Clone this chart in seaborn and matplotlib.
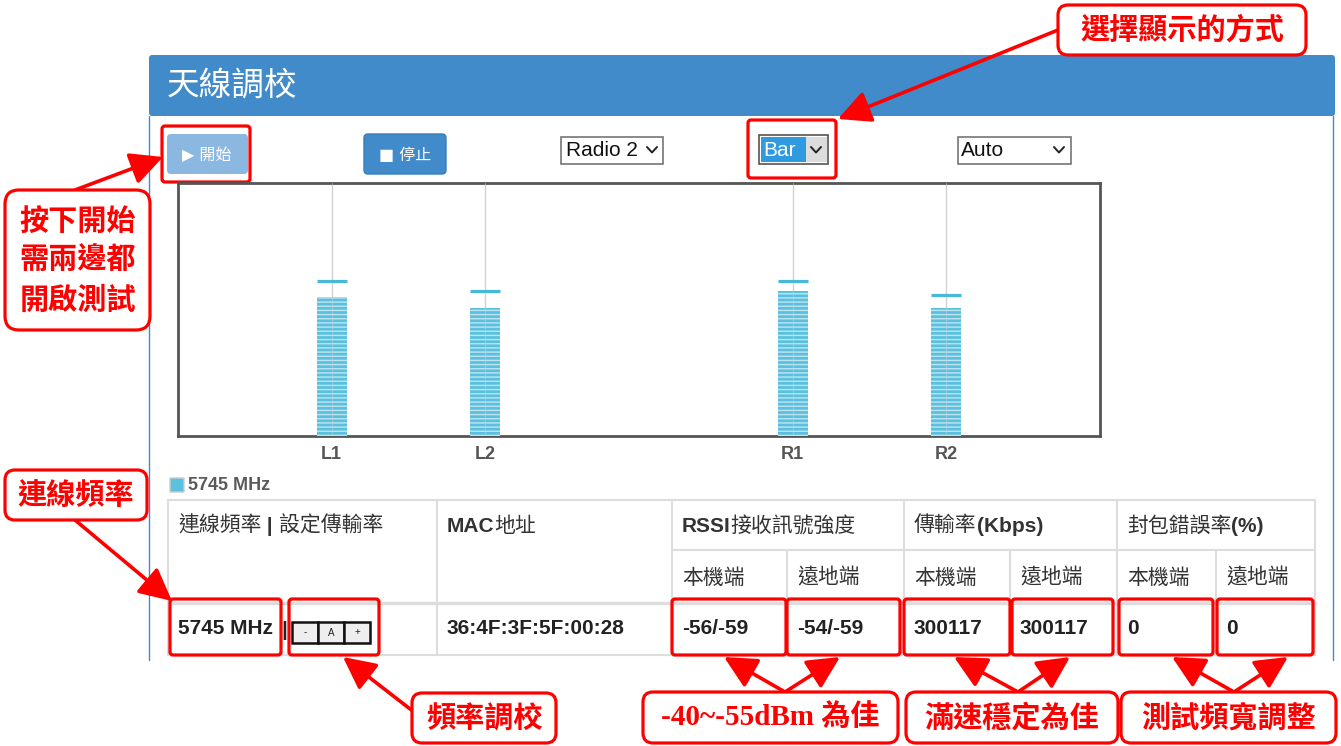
import re
import numpy as np
import pandas as pd
import matplotlib.pyplot as plt
import seaborn as sns
from matplotlib.patches import Rectangle, FancyBboxPatch

# ---- data ----
channels = ['L1', 'L2', 'R1', 'R2']
slot_order = ['L1', 'L2', ' ', 'R1', 'R2']
signal_level = [55.0, 50.5, 57.5, 50.5]
peak_level = [61.3, 57.3, 61.3, 55.7]

freq_label = '5745 MHz'
mac_addr = '36:4F:3F:5F:00:28'
header_top = ['連線頻率 | 設定傳輸率', 'MAC地址', 'RSSI接收訊號強度', '傳輸率(Kbps)', '封包錯誤率(%)']
sub_header = ['本機端', '遠地端', '本機端', '遠地端', '本機端', '遠地端']
row_values = ['-56/-59', '-54/-59', '300117', '300117', '0', '0']

callouts = ['選擇顯示的方式', '按下開始\n需兩邊都\n開啟測試', '連線頻率', '頻率調校',
            '-40~-55dBm 為佳', '滿速穩定為佳', '測試頻寬調整']

UI = ['Liberation Sans', 'Noto Sans CJK TC']
CJK = ['Noto Sans CJK TC', 'DejaVu Sans']
RED = '#ff0000'
BLUE = '#428bca'

sns.set_theme(style='white')
plt.rcParams['font.family'] = UI
plt.rcParams['hatch.linewidth'] = 1.0

fig = plt.figure(figsize=(13.41, 7.46), dpi=100)
renderer = fig.canvas.get_renderer()
bg = fig.add_axes([0, 0, 1, 1])
bg.set_xlim(0, 1341)
bg.set_ylim(746, 0)
bg.axis('off')


def box(x0, y0, x1, y1, fc, ec='none', lw=1.0, r=0, z=1):
    bg.add_patch(FancyBboxPatch((x0, y0), x1 - x0, y1 - y0,
                                boxstyle=f'round,pad=0,rounding_size={r}',
                                fc=fc, ec=ec, lw=lw, zorder=z))


def txt(x, y, s, size, color='#333333', weight='normal', ha='left', family=UI, **kw):
    return bg.text(x, y, s, fontsize=size, color=color, fontweight=weight,
                   ha=ha, va='center', family=family, **kw)


def mixed(x, y, s, size, color='#333333'):
    # ascii runs bold, CJK runs regular, laid out on one baseline
    for run in re.findall(r'[\x00-\x7f]+|[^\x00-\x7f]+', s):
        w = 'bold' if run.isascii() else 'normal'
        t = bg.text(x, y, run, fontsize=size, color=color, fontweight=w,
                    va='baseline', ha='left', family=UI)
        x += t.get_window_extent(renderer).width


def chevron(cx, cy):
    bg.plot([cx - 5, cx, cx + 5], [cy - 3, cy + 2.5, cy - 3], color='#222222', lw=1.4,
            solid_capstyle='round', zorder=3)


# ---- panel ----
box(149, 55, 1335, 116, BLUE, r=3)
bg.plot([149, 149], [116, 660], color=BLUE, lw=1)
bg.plot([1333, 1333], [116, 660], color=BLUE, lw=1)
txt(167, 86, '天線調校', 23.5, 'white', family=CJK)

# buttons
box(167, 134, 248, 174, '#8bb8e1', r=4, z=2)
txt(207, 155, '▶ 開始', 11.5, 'white', ha='center', family=['DejaVu Sans', 'Noto Sans CJK TC'], zorder=3)
box(364, 134, 446, 174, BLUE, '#357ebd', r=4, z=2)
txt(405, 155, '■ 停止', 11.5, 'white', ha='center', family=['DejaVu Sans', 'Noto Sans CJK TC'], zorder=3)

# dropdowns
box(561, 137, 663, 164, 'white', '#767676', 1.2, z=2)
txt(566, 150, 'Radio 2', 15, '#111111', zorder=3)
chevron(652, 150)
box(759, 135, 828, 164, 'white', '#555555', 1.2, z=2)
box(761, 137, 806, 162, '#2f9ae0', z=2)
box(806, 137, 827, 162, '#dcdcdc', z=2)
txt(763, 150, 'Bar', 15, 'white', zorder=3)
chevron(816, 150)
box(958, 137, 1071, 164, 'white', '#767676', 1.2, z=2)
txt(961, 150, 'Auto', 15, '#111111', zorder=3)
chevron(1059, 150)

# ---- bar chart ----
ax = fig.add_axes([178 / 1341, 1 - 436 / 746, 922 / 1341, 253 / 746])
df = pd.DataFrame({'channel': channels, 'level': signal_level})
sns.barplot(data=df, x='channel', y='level', order=slot_order, color='#5bc0de',
            saturation=1, width=0.195, ax=ax, zorder=3)
for p in ax.patches:
    p.set_hatch('----')
    p.set_edgecolor((1, 1, 1, 0.6))
    p.set_linewidth(0)

xs = np.array([slot_order.index(c) for c in channels])
for x in xs:
    ax.axvline(x, color='#d8d8d8', lw=1, zorder=2)
    ax.axvline(x, color='#cfcfcf', lw=0.8, alpha=0.5, zorder=4)
ax.hlines(peak_level, xs - 0.0975, xs + 0.0975, color='#46b8da', lw=2.3, zorder=5)

ax.set_xlim(-1, 5)
ax.set_ylim(0, 100)
ax.set_yticks([])
ax.set_xticks(xs)
ax.set_xticklabels(channels, fontsize=13, fontweight='bold', color='#555555')
ax.tick_params(axis='x', length=0, pad=7)
ax.set_xlabel('')
ax.set_ylabel('')
for s in ax.spines.values():
    s.set_color('#555555')
    s.set_linewidth(2)

# legend
box(170, 478, 184, 492, '#5bc0de', '#cccccc', 1)
txt(188, 485, freq_label, 13, '#5a5a5a', 'bold')

# ---- table ----
grid = '#dddddd'
bg.plot([168, 1315], [500, 500], color=grid, lw=1.5)
bg.plot([672, 1315], [550, 550], color=grid, lw=1.5)
bg.plot([168, 1315], [603, 603], color=grid, lw=2.5)
bg.plot([168, 1315], [655, 655], color=grid, lw=1.5)
for x in [168, 437, 672, 904, 1117, 1315]:
    bg.plot([x, x], [500, 655], color=grid, lw=1.5)
for x in [787, 1010, 1216]:
    bg.plot([x, x], [550, 655], color=grid, lw=1.5)

for x, s in zip([178, 447, 682, 914, 1127], header_top):
    mixed(x, 532, s, 15)
for x, s in zip([682, 797, 914, 1020, 1127, 1226], sub_header):
    txt(x, 578, s, 15)
txt(178, 629, freq_label, 15, '#222222', 'bold')
txt(284, 630, '|', 15, '#222222', 'bold', ha='center')
txt(447, 629, mac_addr, 15, '#222222', 'bold')
for x, s in zip([682, 797, 914, 1020, 1127, 1226], row_values):
    txt(x, 629, s, 15, '#222222', 'bold')

# - A + buttons
for i, s in enumerate(['-', 'A', '+']):
    x0 = 292 + 26 * i
    bg.add_patch(Rectangle((x0, 622), 26, 21, fc='#eeeeee', ec='#111111', lw=1.8, zorder=2))
    txt(x0 + 13, 632.5, s, 7, '#222222', ha='center', zorder=3)

# ---- red highlights ----
red_rects = [(162, 126, 250, 182), (748, 120, 836, 178), (170, 599, 281, 655),
             (289, 599, 379, 655), (672, 599, 786, 655), (787, 599, 900, 655),
             (904, 599, 1010, 655), (1012, 599, 1113, 655), (1119, 599, 1213, 655),
             (1217, 599, 1313, 655)]
for x0, y0, x1, y1 in red_rects:
    box(x0, y0, x1, y1, 'none', RED, 2.3, r=3, z=6)

arrows = [((1058, 30), (838, 119)), ((75, 190), (163, 157)), ((75, 520), (172, 601)),
          ((414, 712), (343, 657)), ((785, 692), (724, 657)), ((785, 692), (840, 657)),
          ((1018, 692), (954, 657)), ((1018, 692), (1070, 657)),
          ((1234, 692), (1172, 657)), ((1234, 692), (1288, 657))]
for (x0, y0), (x1, y1) in arrows:
    bg.annotate('', xy=(x1, y1), xytext=(x0, y0), zorder=7,
                arrowprops=dict(arrowstyle='-|>,head_length=0.9,head_width=0.45', color=RED,
                                lw=2.6, shrinkA=0, shrinkB=0, mutation_scale=22))

callout_boxes = [(1058, 5, 1306, 55), (5, 190, 150, 330), (5, 470, 147, 520), (412, 693, 556, 743),
                 (643, 692, 898, 743), (906, 692, 1118, 743), (1121, 692, 1336, 743)]
for s, (x0, y0, x1, y1) in zip(callouts, callout_boxes):
    box(x0, y0, x1, y1, 'white', RED, 2.3, r=14 if y1 - y0 > 60 else 10, z=8)
    fam = ['Liberation Serif', 'Noto Sans CJK TC'] if s.startswith('-') else CJK
    txt((x0 + x1) / 2, (y0 + y1) / 2, s, 21, RED, 'bold', ha='center', family=fam,
        linespacing=1.4, zorder=9)

fig.savefig('out.png', dpi=100)
